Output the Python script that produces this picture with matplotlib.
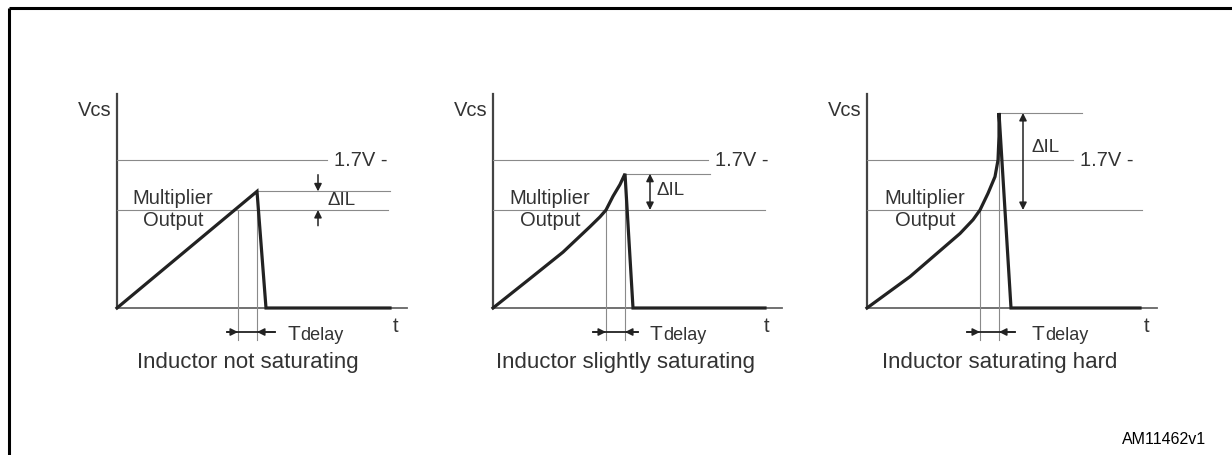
import matplotlib
matplotlib.use("Agg")
import matplotlib.pyplot as plt

plt.rcParams['font.family'] = ['Liberation Sans', 'DejaVu Sans']

W, H = 1232, 455
TXT = '#333333'
THIN = '#8a8a8a'
FS = 14.5

# Levels (V units: multiplier output = 1)
MULT_LEVEL = 1.0
LIMIT_LEVEL = 1.51          # 1.7V threshold

# Per-panel waveform points (time, Vcs)
t_not = [0, 1.40, 1.49, 2.73]
v_not = [0, 1.19, 0, 0]

t_slight = [0, 0.37, 0.70, 0.97, 1.07, 1.13, 1.20, 1.27, 1.32, 1.40, 2.72]
v_slight = [0, 0.30, 0.57, 0.83, 0.93, 1.00, 1.14, 1.26, 1.37, 0, 0]

t_hard = [0, 0.43, 0.93, 1.06, 1.13, 1.21, 1.28, 1.31, 1.32, 1.32, 1.44, 2.73]
v_hard = [0, 0.32, 0.76, 0.90, 1.00, 1.17, 1.34, 1.51, 1.75, 1.99, 0, 0]

captions = ['Inductor not saturating', 'Inductor slightly saturating', 'Inductor saturating hard']
origins_px = [117, 493, 867]        # x pixel of each Vcs axis

# cross time, peak time, peak level, 1.7V line end, peak line end, mult line end, axis end
cross_t = [1.21, 1.13, 1.13]
peak_t = [1.40, 1.32, 1.32]
peak_v = [1.19, 1.37, 1.99]
limit_end = [2.10, 2.15, 2.06]
peak_end = [2.73, 2.17, 2.15]
mult_end = [2.71, 2.72, 2.75]
axis_end = [2.90, 2.89, 2.90]
dil_x = [2.01, 1.57, 1.56]
dil_text = [(2.10, 1.10), (1.64, 1.20), (1.64, 1.64)]
td_left = [1.10, 1.00, 1.00]
td_right = [1.58, 1.45, 1.48]
td_text = [1.70, 1.57, 1.65]
t_label = [2.79, 2.74, 2.80]
cap_x = [1.31, 1.32, 1.33]
mult_text_x = [0.56, 0.57, 0.58]

curves = [(t_not, v_not), (t_slight, v_slight), (t_hard, v_hard)]

fig = plt.figure(figsize=(W / 100, H / 100), dpi=100)

# background axes in pixel coordinates
bg = fig.add_axes([0, 0, 1, 1])
bg.set_xlim(0, W)
bg.set_ylim(H, 0)
bg.axis('off')
bg.plot([8.5, W], [7.5, 7.5], color='black', lw=2.2, solid_capstyle='butt')
bg.plot([8.5, 8.5], [7.5, H], color='black', lw=2.2, solid_capstyle='butt')
bg.text(1206, 439, 'AM11462v1', fontsize=11.5, ha='right', va='center', color='black')

# panel axes: 100 px per time unit, 98 px per V unit
XL = (-0.5, 3.1)
YL = (-0.75, 2.3)
for i in range(3):
    left_px = origins_px[i] + XL[0] * 100
    bottom_px = H - (308 - YL[0] * 98)
    ax = fig.add_axes([left_px / W, bottom_px / H, (XL[1] - XL[0]) * 100 / W, (YL[1] - YL[0]) * 98 / H])
    ax.set_xlim(*XL)
    ax.set_ylim(*YL)
    ax.axis('off')

    # axes
    ax.plot([0, 0], [0, 2.18], color='#444444', lw=1.6)
    ax.plot([0, axis_end[i]], [0, 0], color='#666666', lw=1.3)
    ax.text(-0.05, 2.02, 'Vcs', fontsize=FS, ha='right', va='center', color=TXT)
    ax.text(t_label[i], -0.19, 't', fontsize=FS, ha='center', va='center', color=TXT)

    # reference levels
    ax.plot([0, limit_end[i]], [LIMIT_LEVEL, LIMIT_LEVEL], color=THIN, lw=0.8)
    ax.text(limit_end[i] + 0.07, LIMIT_LEVEL, '1.7V -', fontsize=FS, ha='left', va='center', color=TXT)
    ax.plot([0, mult_end[i]], [MULT_LEVEL, MULT_LEVEL], color=THIN, lw=0.8)
    ax.plot([peak_t[i], peak_end[i]], [peak_v[i], peak_v[i]], color=THIN, lw=0.8)
    ax.text(mult_text_x[i], 1.12, 'Multiplier', fontsize=FS, ha='center', va='center', color=TXT)
    ax.text(mult_text_x[i], 0.89, 'Output', fontsize=FS, ha='center', va='center', color=TXT)

    # timing markers
    ax.plot([cross_t[i], cross_t[i]], [MULT_LEVEL, -0.33], color=THIN, lw=0.8)
    ax.plot([peak_t[i], peak_t[i]], [peak_v[i], -0.33], color=THIN, lw=0.8)

    # waveform
    t, v = curves[i]
    ax.plot(t, v, color='#222222', lw=2.3, solid_joinstyle='miter')

    # delta IL arrow
    aprops = dict(arrowstyle='-|>', color='#222222', lw=1.1, mutation_scale=11, shrinkA=0, shrinkB=0)
    if i == 0:
        ax.annotate('', xy=(dil_x[i], peak_v[i]), xytext=(dil_x[i], peak_v[i] + 0.17), arrowprops=aprops)
        ax.annotate('', xy=(dil_x[i], MULT_LEVEL), xytext=(dil_x[i], MULT_LEVEL - 0.16), arrowprops=aprops)
    else:
        ax.annotate('', xy=(dil_x[i], peak_v[i]), xytext=(dil_x[i], MULT_LEVEL),
                    arrowprops=dict(aprops, arrowstyle='<|-|>'))
    ax.text(dil_text[i][0], dil_text[i][1], '\u0394IL', fontsize=13.5, ha='left', va='center', color=TXT)

    # Tdelay arrows
    ax.plot([td_left[i], td_right[i]], [-0.245, -0.245], color='#222222', lw=1.3)
    ax.annotate('', xy=(cross_t[i], -0.245), xytext=(td_left[i], -0.245), arrowprops=aprops)
    ax.annotate('', xy=(peak_t[i], -0.245), xytext=(td_right[i], -0.245), arrowprops=aprops)
    ax.text(td_text[i], -0.27, 'T', fontsize=15, ha='left', va='center', color=TXT)
    ax.annotate('delay', xy=(td_text[i], -0.27), xytext=(9.5, -1), textcoords='offset points',
                fontsize=13, ha='left', va='center', color=TXT)

    ax.text(cap_x[i], -0.555, captions[i], fontsize=16, ha='center', va='center', color=TXT)

fig.savefig('out.png', dpi=100, facecolor='white')
